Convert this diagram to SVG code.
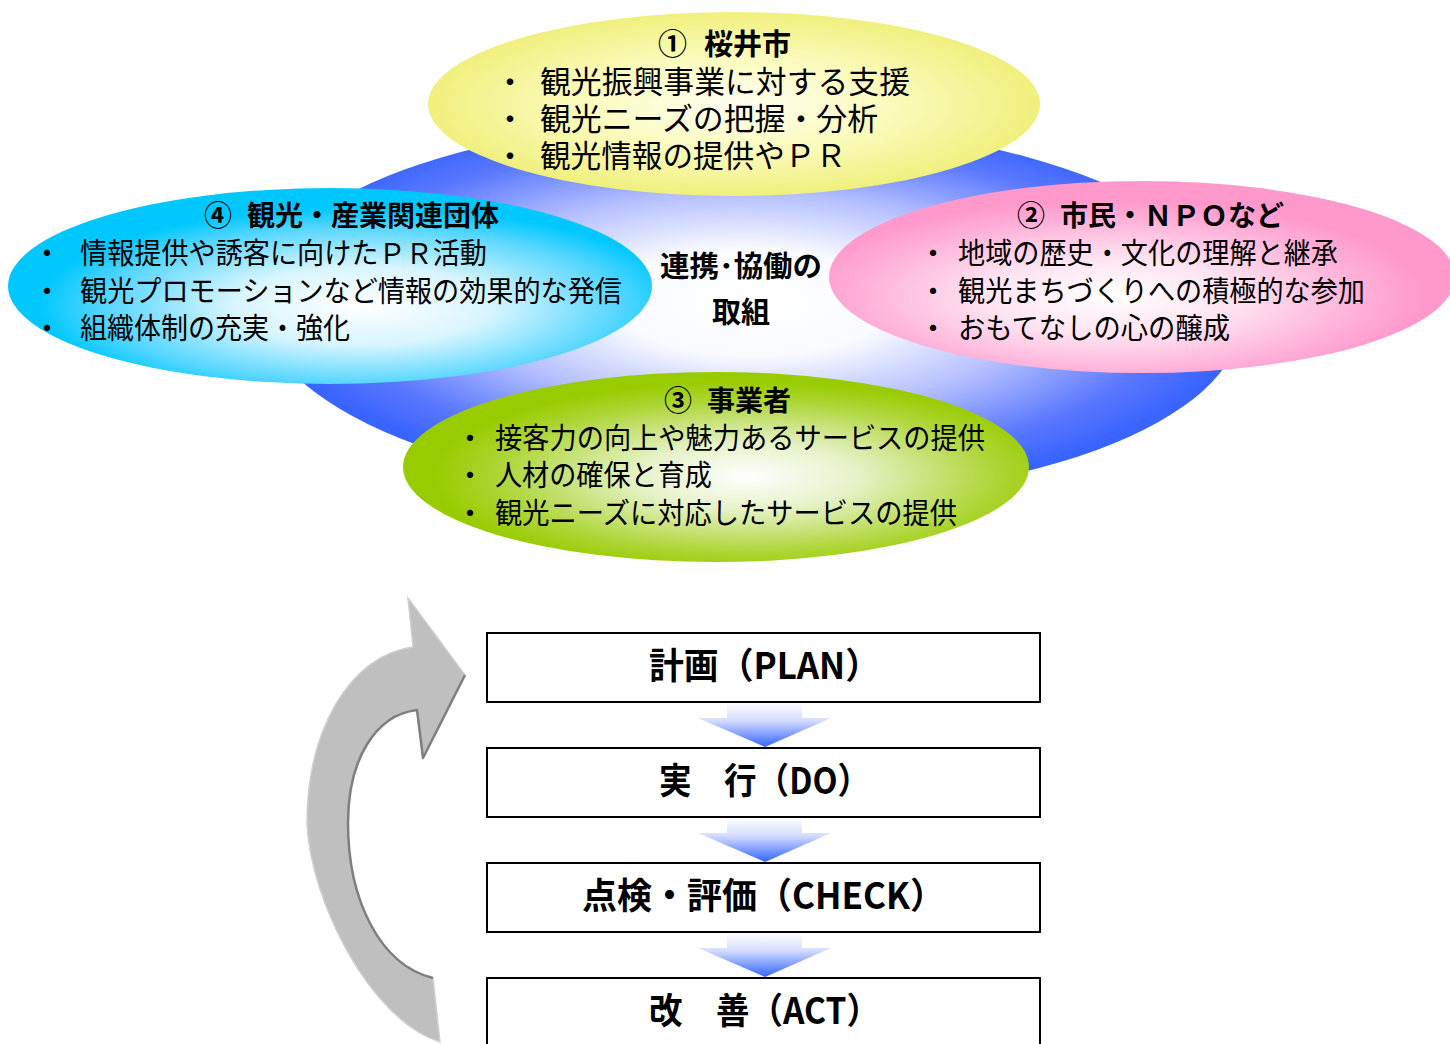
<svg xmlns="http://www.w3.org/2000/svg" width="1450" height="1044" viewBox="0 0 1450 1044">
<style>
.t{font-family:"Liberation Sans","Noto Sans CJK JP",sans-serif;fill:#000}
.j{font-family:"Noto Sans CJK JP","Noto Sans",sans-serif;fill:#000}
.b{font-weight:bold}
.body{font-size:29px}
.ttl{font-size:28px;font-weight:bold}
.box{fill:#fff;stroke:#000;stroke-width:2}
.pd{font-size:36px;font-weight:bold}
.chev{fill:url(#gChev)}
</style>
<defs>
<radialGradient id="gBlue" cx="0.5" cy="0.48" r="0.5">
<stop offset="0" stop-color="#FFFFFF"/>
<stop offset="0.28" stop-color="#FAFBFF"/>
<stop offset="0.58" stop-color="#B3BEFF"/>
<stop offset="0.85" stop-color="#5A78FF"/>
<stop offset="1" stop-color="#3A64FF"/>
</radialGradient>
<radialGradient id="gYel" cx="0.5" cy="0.5" r="0.5">
<stop offset="0" stop-color="#FFFFF2"/>
<stop offset="0.5" stop-color="#FBFBBE"/>
<stop offset="1" stop-color="#F0F07E"/>
</radialGradient>
<radialGradient id="gCyan" cx="0.55" cy="0.6" r="0.5">
<stop offset="0" stop-color="#FFFFFF"/>
<stop offset="0.4" stop-color="#D8F5FF"/>
<stop offset="0.8" stop-color="#55D6FF"/>
<stop offset="1" stop-color="#00C8FF"/>
</radialGradient>
<radialGradient id="gPink" cx="0.45" cy="0.6" r="0.5">
<stop offset="0" stop-color="#FFFFFF"/>
<stop offset="0.4" stop-color="#FFE3F1"/>
<stop offset="0.8" stop-color="#FFB0D8"/>
<stop offset="1" stop-color="#FF99CC"/>
</radialGradient>
<radialGradient id="gGreen" cx="0.55" cy="0.55" r="0.5">
<stop offset="0" stop-color="#FFFFFF"/>
<stop offset="0.35" stop-color="#E6F2C8"/>
<stop offset="0.8" stop-color="#ADD535"/>
<stop offset="1" stop-color="#99CC00"/>
</radialGradient>
<linearGradient id="gChev" x1="0" y1="0" x2="0" y2="1">
<stop offset="0" stop-color="#FFFFFF"/>
<stop offset="0.4" stop-color="#D5DCFF"/>
<stop offset="1" stop-color="#3366FF"/>
</linearGradient>
</defs>

<g id="collab-base">
<ellipse cx="750" cy="310" rx="492" ry="190" transform="rotate(1 750 310)" fill="url(#gBlue)"/>
<text class="t b" x="660" y="277" font-size="29" textLength="162" lengthAdjust="spacingAndGlyphs">連携･協働の</text>
<text class="t b" x="741" y="323" font-size="29" text-anchor="middle">取組</text>
</g>

<g id="node-sakurai">
<ellipse cx="734" cy="104" rx="306" ry="92" fill="url(#gYel)"/>
<text class="t b" y="55" font-size="29"><tspan x="658">①</tspan><tspan x="704">桜井市</tspan></text>
<text class="t" x="510" y="93" font-size="31" text-anchor="middle">・</text>
<text class="t" x="540" y="93" font-size="31" textLength="370" lengthAdjust="spacingAndGlyphs">観光振興事業に対する支援</text>
<text class="t" x="510" y="130" font-size="31" text-anchor="middle">・</text>
<text class="t" x="540" y="130" font-size="31" textLength="338" lengthAdjust="spacingAndGlyphs">観光ニーズの把握・分析</text>
<text class="t" x="510" y="167" font-size="31" text-anchor="middle">・</text>
<text class="t" x="540" y="167" font-size="31" textLength="306" lengthAdjust="spacingAndGlyphs">観光情報の提供やＰＲ</text>
</g>

<g id="node-kanko">
<ellipse cx="330" cy="286" rx="322" ry="98" fill="url(#gCyan)"/>
<text class="t ttl" y="226"><tspan x="204">④</tspan><tspan x="247">観光・産業関連団体</tspan></text>
<text class="t body" x="47" y="264" text-anchor="middle">・</text>
<text class="t body" x="80" y="264" textLength="407" lengthAdjust="spacingAndGlyphs">情報提供や誘客に向けたＰＲ活動</text>
<text class="t body" x="47" y="302" text-anchor="middle">・</text>
<text class="t body" x="80" y="302" textLength="542" lengthAdjust="spacingAndGlyphs">観光プロモーションなど情報の効果的な発信</text>
<text class="t body" x="47" y="339" text-anchor="middle">・</text>
<text class="t body" x="80" y="339" textLength="270" lengthAdjust="spacingAndGlyphs">組織体制の充実・強化</text>
</g>

<g id="node-shimin">
<ellipse cx="1142" cy="277" rx="313" ry="96" fill="url(#gPink)"/>
<text class="t ttl" y="226"><tspan x="1017">②</tspan><tspan x="1060">市民・ＮＰＯなど</tspan></text>
<text class="t body" x="933" y="264" text-anchor="middle">・</text>
<text class="t body" x="958" y="264" textLength="380" lengthAdjust="spacingAndGlyphs">地域の歴史・文化の理解と継承</text>
<text class="t body" x="933" y="302" text-anchor="middle">・</text>
<text class="t body" x="958" y="302" textLength="407" lengthAdjust="spacingAndGlyphs">観光まちづくりへの積極的な参加</text>
<text class="t body" x="933" y="339" text-anchor="middle">・</text>
<text class="t body" x="958" y="339" textLength="272" lengthAdjust="spacingAndGlyphs">おもてなしの心の醸成</text>
</g>

<g id="node-jigyosha">
<ellipse cx="716" cy="467" rx="313" ry="95" fill="url(#gGreen)"/>
<text class="t ttl" y="411"><tspan x="664">③</tspan><tspan x="707">事業者</tspan></text>
<text class="t body" x="470" y="449" text-anchor="middle">・</text>
<text class="t body" x="495" y="449" textLength="490" lengthAdjust="spacingAndGlyphs">接客力の向上や魅力あるサービスの提供</text>
<text class="t body" x="470" y="486" text-anchor="middle">・</text>
<text class="t body" x="495" y="486" textLength="217" lengthAdjust="spacingAndGlyphs">人材の確保と育成</text>
<text class="t body" x="470" y="524" text-anchor="middle">・</text>
<text class="t body" x="495" y="524" textLength="462" lengthAdjust="spacingAndGlyphs">観光ニーズに対応したサービスの提供</text>
</g>

<g id="node-plan">
<rect class="box" x="487" y="633" width="553" height="69"/>
<text class="j pd" x="649" y="679" textLength="231" lengthAdjust="spacingAndGlyphs">計画（PLAN）</text>
</g>
<g id="node-do">
<rect class="box" x="487" y="748" width="553" height="69"/>
<text class="j pd" x="659" y="794" textLength="211" lengthAdjust="spacingAndGlyphs">実　行（DO）</text>
</g>
<g id="node-check">
<rect class="box" x="487" y="863" width="553" height="69"/>
<text class="j pd" x="582" y="909" textLength="363" lengthAdjust="spacingAndGlyphs">点検・評価（CHECK）</text>
</g>
<g id="node-act">
<rect class="box" x="487" y="978" width="553" height="90"/>
<text class="j pd" x="649" y="1024" textLength="231" lengthAdjust="spacingAndGlyphs">改　善（ACT）</text>
</g>

<g id="connectors">
<path class="chev" d="M727,703 H802 V718 H831 L765,747 L698,718 H727 Z"/>
<path class="chev" d="M727,818 H802 V833 H831 L765,862 L698,833 H727 Z"/>
<path class="chev" d="M727,933 H802 V948 H831 L765,977 L698,948 H727 Z"/>
<path d="M440,1042 C370,1020 310,900 307,823 C307,730 350,655 413,647 L408,598 L465,675 L423,758 L417,710 C375,715 348,760 348,823 C348,900 380,965 433,978 Z" fill="#BFBFBF" stroke="#D0D0D0" stroke-width="1.5"/>
<path d="M465,675 L423,758 L417,710 C375,715 348,760 348,823 C348,900 380,965 433,978" fill="none" stroke="#7F7F7F" stroke-width="2.5" stroke-linejoin="round"/>
</g>
</svg>
